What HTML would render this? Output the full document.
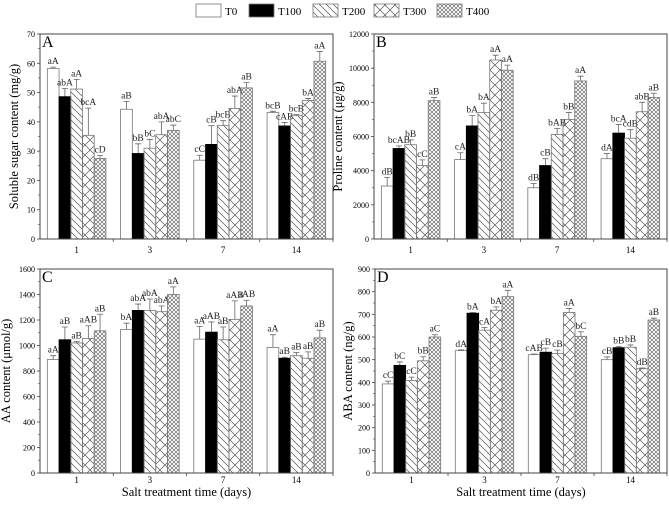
<!DOCTYPE html>
<html><head><meta charset="utf-8">
<style>
html,body{margin:0;padding:0;background:#fff;}
svg{display:block;font-family:"Liberation Serif",serif;}
</style></head>
<body>
<svg id="chart" width="669" height="505" viewBox="0 0 669 505" xmlns="http://www.w3.org/2000/svg">
<defs>
<pattern id="p200" patternUnits="userSpaceOnUse" width="7" height="7"><path d="M-1,-1 L8,8 M-1,6 L1,8 M6,-1 L8,1" stroke="#555" stroke-width="0.7"/></pattern>
<pattern id="p300" patternUnits="userSpaceOnUse" width="10" height="10"><path d="M0,0 L10,10 M10,0 L0,10" stroke="#555" stroke-width="0.7"/></pattern>
<pattern id="p400" patternUnits="userSpaceOnUse" width="4" height="4"><path d="M0,0 L4,4 M4,0 L0,4" stroke="#555" stroke-width="0.6"/></pattern>
</defs>
<g id="legend"></g>
<g id="panels"></g>
</svg>
<script>
const series = ["T0","T100","T200","T300","T400"];
const categories = ["1","3","7","14"];
const fills = ["#fff","#000","url(#p200)","url(#p300)","url(#p400)"];

const aValues = [[58.2,48.6,51.2,35.4,27.5],[44.3,29.2,31.0,35.6,37.1],[26.9,32.3,38.8,44.6,51.6],[43.2,38.6,42.1,47.3,60.7]];
const aErrors = [[0.5,2.8,3.3,9.3,1.0],[2.7,3.3,3.0,4.4,1.8],[1.7,6.4,1.6,4.2,1.8],[0.4,1.2,0.4,0.7,3.3]];
const aLetters = [["aA","abA","aA","bcA","cD"],["aB","bB","bC","abA","abC"],["cC","cB","bcB","abA","aB"],["bcB","cAB","bcB","bA","aA"]];
const aTicks = [0,10,20,30,40,50,60,70];

const bValues = [[3100,5300,5520,4300,8100],[4650,6620,7400,10480,9880],[3000,4300,6120,7000,9250],[4700,6200,5900,7450,8280]];
const bErrors = [[500,150,280,330,180],[400,600,550,280,300],[250,400,350,400,280],[300,500,500,550,250]];
const bLetters = [["dB","bcAB","bB","cC","aB"],["cA","bA","bA","aA","aA"],["dB","cB","bAB","bB","aA"],["dA","bcA","cdB","abB","aB"]];
const bTicks = [0,2000,4000,6000,8000,10000,12000];

const cValues = [[890,1045,1020,1055,1115],[1125,1275,1275,1265,1400],[1050,1105,1045,1205,1310],[985,900,920,900,1060]];
const cErrors = [[30,100,10,100,130],[50,50,90,45,60],[100,80,100,145,45],[100,8,25,50,60]];
const cLetters = [["aA","aB","aB","aAB","aB"],["bA","abA","abA","abA","aA"],["aA","aAB","aB","aAB","aAB"],["aA","aB","aB","aB","aB"]];
const cTicks = [0,200,400,600,800,1000,1200,1400,1600];

const dValues = [[393,475,408,495,600],[540,705,630,718,778],[522,533,527,708,603],[500,553,555,460,675]];
const dErrors = [[12,15,15,18,10],[3,3,12,15,28],[3,18,15,18,20],[12,5,10,3,8]];
const dLetters = [["cC","bC","cC","bB","aC"],["dA","bA","cA","bA","aA"],["cAB","cB","cB","aA","bC"],["cB","bB","bB","dB","aB"]];
const dTicks = [0,100,200,300,400,500,600,700,800,900];

const NS = "http://www.w3.org/2000/svg";
function mk(tag, attrs, parent, text){
  const e = document.createElementNS(NS, tag);
  for (const k in attrs) e.setAttribute(k, attrs[k]);
  if (text !== undefined) e.textContent = text;
  parent.appendChild(e);
  return e;
}

const lg = document.getElementById("legend");
const lgX = [196,249,313,374,437];
series.forEach((s,i)=>{
  const r = mk("rect",{x:lgX[i],y:4,width:25,height:13,fill:fills[i],stroke:"#777","stroke-width":0.8},lg);
  
  
  const t = mk("text",{x:lgX[i]+29,y:15,"font-size":11},lg,s);
  
  
});

const panels = [
  {id:"a",letter:"A",x0:40,x1:333,y0:34,y1:239,max:70,ticks:aTicks,vals:aValues,errs:aErrors,lets:aLetters,title:"Soluble sugar content (mg/g)",tx:18,xt:false},
  {id:"b",letter:"B",x0:374,x1:667,y0:34,y1:239,max:12000,ticks:bTicks,vals:bValues,errs:bErrors,lets:bLetters,title:"Proline content (μg/g)",tx:342,xt:false},
  {id:"c",letter:"C",x0:40,x1:333,y0:269,y1:473,max:1600,ticks:cTicks,vals:cValues,errs:cErrors,lets:cLetters,title:"AA content (μmol/g)",tx:10,xt:true},
  {id:"d",letter:"D",x0:375,x1:667,y0:269,y1:473,max:900,ticks:dTicks,vals:dValues,errs:dErrors,lets:dLetters,title:"ABA content (ng/g)",tx:352,xt:true}
];

const root = document.getElementById("panels");
panels.forEach(p=>{
  const g = mk("g",{},root);
  
  
  const yS = v => p.y1 - v/p.max*(p.y1-p.y0);
  const gw = (p.x1-p.x0)/categories.length;
  const bw = gw*0.8/series.length;
  const xC = i => p.x0 + gw*(i+0.5);
  categories.forEach((c,ci)=>{
    series.forEach((s,si)=>{
      const v = p.vals[ci][si], e = p.errs[ci][si];
      const bx = xC(ci) - gw*0.4 + si*bw;
      const cx = bx + bw/2;
      const top = yS(v);
      const eb = mk("path",{d:`M${cx},${top} V${yS(v+e)} M${cx-3},${yS(v+e)} H${cx+3}`,stroke:"#666","stroke-width":0.8,fill:"none"},g);
      
      
      const r = mk("rect",{x:bx,y:top,width:bw,height:p.y1-top,fill:fills[si],stroke:si===1?"#000":"#777","stroke-width":0.8},g);
      
      
      const t = mk("text",{x:cx,y:yS(v+e)-3,"font-size":9.5,"text-anchor":"middle",fill:"#222"},g,p.lets[ci][si]);
      
      
    });
    const xl = mk("text",{x:xC(ci),y:p.y1+(p.xt?10:14),"font-size":9,"text-anchor":"middle"},g,c);
    
    
    mk("line",{x1:p.x0+gw*(ci+1),x2:p.x0+gw*(ci+1),y1:p.y1,y2:p.y1+3,stroke:"#444","stroke-width":0.8},g);
  });
  const fr = mk("rect",{x:p.x0,y:p.y0,width:p.x1-p.x0,height:p.y1-p.y0,fill:"none",stroke:"#444","stroke-width":1},g);
  
  
  p.ticks.forEach((t,ti)=>{
    const y = yS(t);
    mk("line",{x1:p.x0-3,x2:p.x0,y1:y,y2:y,stroke:"#444","stroke-width":0.8},g);
    if (ti < p.ticks.length-1){
      const ym = yS((t+p.ticks[ti+1])/2);
      mk("line",{x1:p.x0-2,x2:p.x0,y1:ym,y2:ym,stroke:"#444","stroke-width":0.6},g);
    }
    const tl = mk("text",{x:p.x0-5,y:y+3,"font-size":8,"text-anchor":"end"},g,t);
    
    
  });
  const L = mk("text",{x:p.x0+2,y:p.y0+13,"font-size":16},g,p.letter);
  
  
  const cy = (p.y0+p.y1)/2;
  const yt = mk("text",{x:p.tx,y:cy,"font-size":12.5,"text-anchor":"middle",transform:`rotate(-90 ${p.tx} ${cy})`},g,p.title);
  
  
  if (p.xt){
    const xt = mk("text",{x:(p.x0+p.x1)/2,y:496,"font-size":12.5,"text-anchor":"middle"},g,"Salt treatment time (days)");
    
    
  }
});
</script>
</body></html>
